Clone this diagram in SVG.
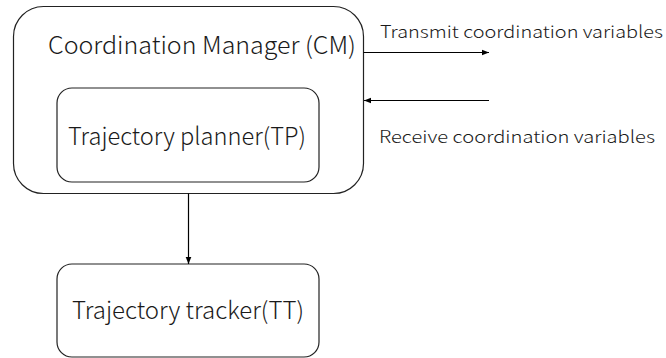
<svg xmlns="http://www.w3.org/2000/svg" width="666" height="358" viewBox="0 0 666 358">
  <defs>
    <marker id="arrow" viewBox="0 0 10 10" refX="10" refY="5" markerWidth="7" markerHeight="7" orient="auto" markerUnits="userSpaceOnUse">
      <path d="M0,1 L10,5 L0,9 z" fill="#000"/>
    </marker>
    <style>
      .box { fill: #fff; stroke: #222; stroke-width: 1.2; }
      .lbl { font-family: "Noto Sans CJK SC", "Noto Sans", sans-serif; font-weight: 300; fill: #1a1a1a; }
      .big { font-size: 24px; }
      .small { font-size: 17px; }
      .wire { stroke: #000; stroke-width: 1.2; fill: none; }
    </style>
  </defs>
  <rect width="666" height="358" fill="#fff"/>

  <g id="cm">
    <rect class="box" x="13.5" y="6.5" width="350" height="187" rx="30" ry="30"/>
    <text class="lbl big" x="48" y="53.5" textLength="308" lengthAdjust="spacingAndGlyphs">Coordination Manager (CM)</text>
  </g>

  <g id="tp">
    <rect class="box" x="57" y="88" width="262" height="94" rx="15" ry="15"/>
    <text class="lbl big" x="68" y="145" textLength="238" lengthAdjust="spacingAndGlyphs">Trajectory planner(TP)</text>
  </g>

  <g id="tt">
    <rect class="box" x="57" y="264" width="262" height="93" rx="15" ry="15"/>
    <text class="lbl big" x="72" y="319" textLength="232" lengthAdjust="spacingAndGlyphs">Trajectory tracker(TT)</text>
  </g>

  <g id="connectors">
    <line class="wire" x1="188.5" y1="193.5" x2="188.5" y2="264" marker-end="url(#arrow)"/>
    <line class="wire" x1="363.5" y1="52.5" x2="489" y2="52.5" marker-end="url(#arrow)"/>
    <line class="wire" x1="489" y1="100.5" x2="364" y2="100.5" marker-end="url(#arrow)"/>
    <text class="lbl small" x="380" y="37.5" textLength="283" lengthAdjust="spacingAndGlyphs">Transmit coordination variables</text>
    <text class="lbl small" x="379" y="142.5" textLength="276" lengthAdjust="spacingAndGlyphs">Receive coordination variables</text>
  </g>
</svg>
